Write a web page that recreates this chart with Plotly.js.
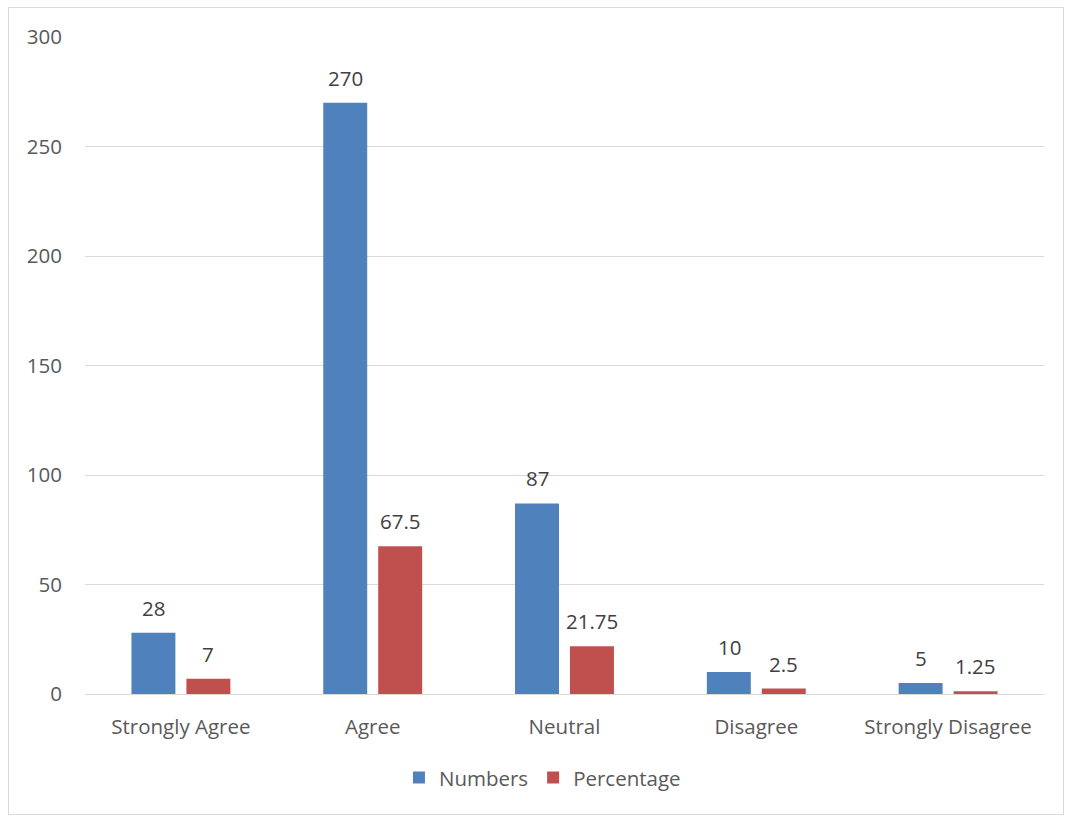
<!DOCTYPE html>
<html>
<head>
<meta charset="utf-8">
<script src="https://cdn.plot.ly/plotly-3.0.1.min.js"></script>
<style>
html,body{margin:0;padding:0;background:#fff;}
#wrap{position:absolute;left:8px;top:7px;width:1054px;height:806px;border:1px solid #d9d9d9;}
#chart{width:1054px;height:806px;}
</style>
</head>
<body>
<div id="wrap"><div id="chart"></div></div>
<script>
const categories = ["Strongly Agree", "Agree", "Neutral", "Disagree", "Strongly Disagree"];
const numbers = [28, 270, 87, 10, 5];
const percentage = [7, 67.5, 21.75, 2.5, 1.25];
const seriesNames = ["Numbers", "Percentage"];
const colors = ["#4f81bd", "#c0504d"];
const FONT = "'Open Sans', 'Noto Sans', sans-serif";
const FS = 20.5;

const traces = [
  {type: "bar", name: seriesNames[0], x: categories, y: numbers, marker: {color: colors[0]}, hoverinfo: "none"},
  {type: "bar", name: seriesNames[1], x: categories, y: percentage, marker: {color: colors[1]}, hoverinfo: "none"}
];

const annotations = [];
[numbers, percentage].forEach((vals, si) => {
  vals.forEach((v, i) => {
    annotations.push({
      x: categories[i], y: v, xref: "x", yref: "y",
      text: String(v), showarrow: false,
      xshift: si === 0 ? -27 : 27.5, yshift: 25,
      font: {family: FONT, size: FS, color: "#404040"}
    });
  });
});

const layout = {
  width: 1054, height: 806,
  margin: {l: 76, r: 19, t: 29, b: 120},
  paper_bgcolor: "#fff", plot_bgcolor: "#fff",
  barmode: "group", bargap: 0.427, bargroupgap: 0.2,
  font: {family: FONT, size: FS, color: "#595959"},
  xaxis: {
    type: "category", showgrid: false, showline: true, linecolor: "#d9d9d9", linewidth: 1,
    ticks: "", ticklabelstandoff: 14, tickfont: {family: FONT, size: FS, color: "#595959"}
  },
  yaxis: {
    range: [0, 300], tick0: 0, dtick: 50, showgrid: true, gridcolor: "#d9d9d9", gridwidth: 1,
    zeroline: false, showline: false, ticks: "", ticklabelstandoff: 22,
    tickfont: {family: FONT, size: FS, color: "#595959"}
  },
  showlegend: true,
  legend: {
    orientation: "h", xref: "paper", x: 0.477, xanchor: "center",
    yref: "container", y: 0.045, yanchor: "middle",
    font: {family: FONT, size: FS, color: "#595959"}, itemwidth: 30, traceorder: "normal"
  },
  annotations: annotations
};

Plotly.newPlot("chart", traces, layout, {displayModeBar: false, staticPlot: true});
</script>
</body>
</html>
